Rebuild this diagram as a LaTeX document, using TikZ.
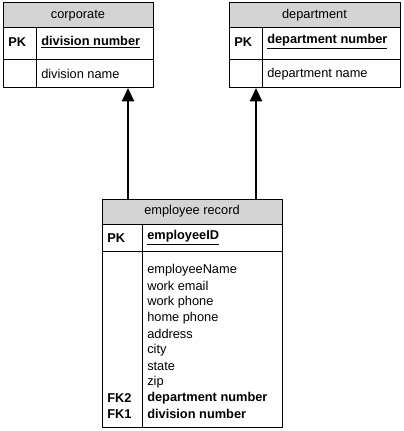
\documentclass[tikz,border=0pt]{standalone}
\usepackage{fontspec}
\setmainfont{Liberation Sans}
\usetikzlibrary{arrows.meta}
\definecolor{headgray}{RGB}{212,212,212}

\begin{document}
\begin{tikzpicture}[x=0.75pt,y=-0.75pt,
  txt/.style={inner sep=0pt,font=\fontsize{9.6}{11}\selectfont},
  fld/.style={txt,anchor=west},
  keyfld/.style={txt,anchor=west,font=\fontsize{9.6}{11}\selectfont\bfseries},
  box/.style={line width=0.75pt},
  link/.style={line width=1.5pt,-{Triangle[length=10pt,width=9pt]}}]
\useasboundingbox (0,0) rectangle (403,431);
% corporate
\coordinate (corpNW) at (3,3);
\coordinate (corpSE) at (153,88);
\coordinate (corpFK) at (128,88);
\fill[headgray] (3,3) rectangle (153,28);
\draw[box] (corpNW) rectangle (corpSE);
\draw[box] (3,28) -- (153,28);
\draw[box] (3,60) -- (153,60);
\draw[box] (36,28) -- (36,88);
\node[txt] (corpTitle) at (78,15.5) {corporate};
\node[keyfld] (corpPK) at (8,42) {PK};
\node[keyfld] (corpKey) at (41,42) {\underline{division number}};
\node[fld] (corpName) at (41,74) {division name};
% department
\coordinate (deptNW) at (229,3);
\coordinate (deptSE) at (400,88);
\coordinate (deptFK) at (256,88);
\fill[headgray] (229,3) rectangle (400,28);
\draw[box] (deptNW) rectangle (deptSE);
\draw[box] (229,28) -- (400,28);
\draw[box] (229,60) -- (400,60);
\draw[box] (262,28) -- (262,88);
\node[txt] (deptTitle) at (314.5,15.5) {department};
\node[keyfld] (deptPK) at (234,42) {PK};
\node[keyfld] (deptKey) at (267,42) {\underline{department number}};
\node[fld] (deptName) at (267,74) {department name};
% employee record
\coordinate (empNW) at (102,199);
\coordinate (empSE) at (282,427);
\coordinate (empCorp) at (128,199);
\coordinate (empDept) at (256,199);
\fill[headgray] (102,199) rectangle (282,224);
\draw[box] (empNW) rectangle (empSE);
\draw[box] (102,224) -- (282,224);
\draw[box] (102,251) -- (282,251);
\draw[box] (142,224) -- (142,427);
\node[txt] (empTitle) at (192,211.5) {employee record};
\node[keyfld] (empPK) at (107,238) {PK};
\node[keyfld] (empKey) at (147,238) {\underline{employeeID}};
\foreach \a [count=\i] in {employeeName,work email,work phone,home phone,address,city,state,zip}
  \node[fld] (attr\i) at (147,254+16*\i) {\a};
\node[keyfld] (fkDept) at (147,398) {department number};
\node[keyfld] (fkDiv) at (147,414) {division number};
\node[keyfld] (fkTwo) at (107,398) {FK2};
\node[keyfld] (fkOne) at (107,414) {FK1};
% links
\draw[link] (empCorp) -- (corpFK);
\draw[link] (empDept) -- (deptFK);
\end{tikzpicture}
\end{document}
